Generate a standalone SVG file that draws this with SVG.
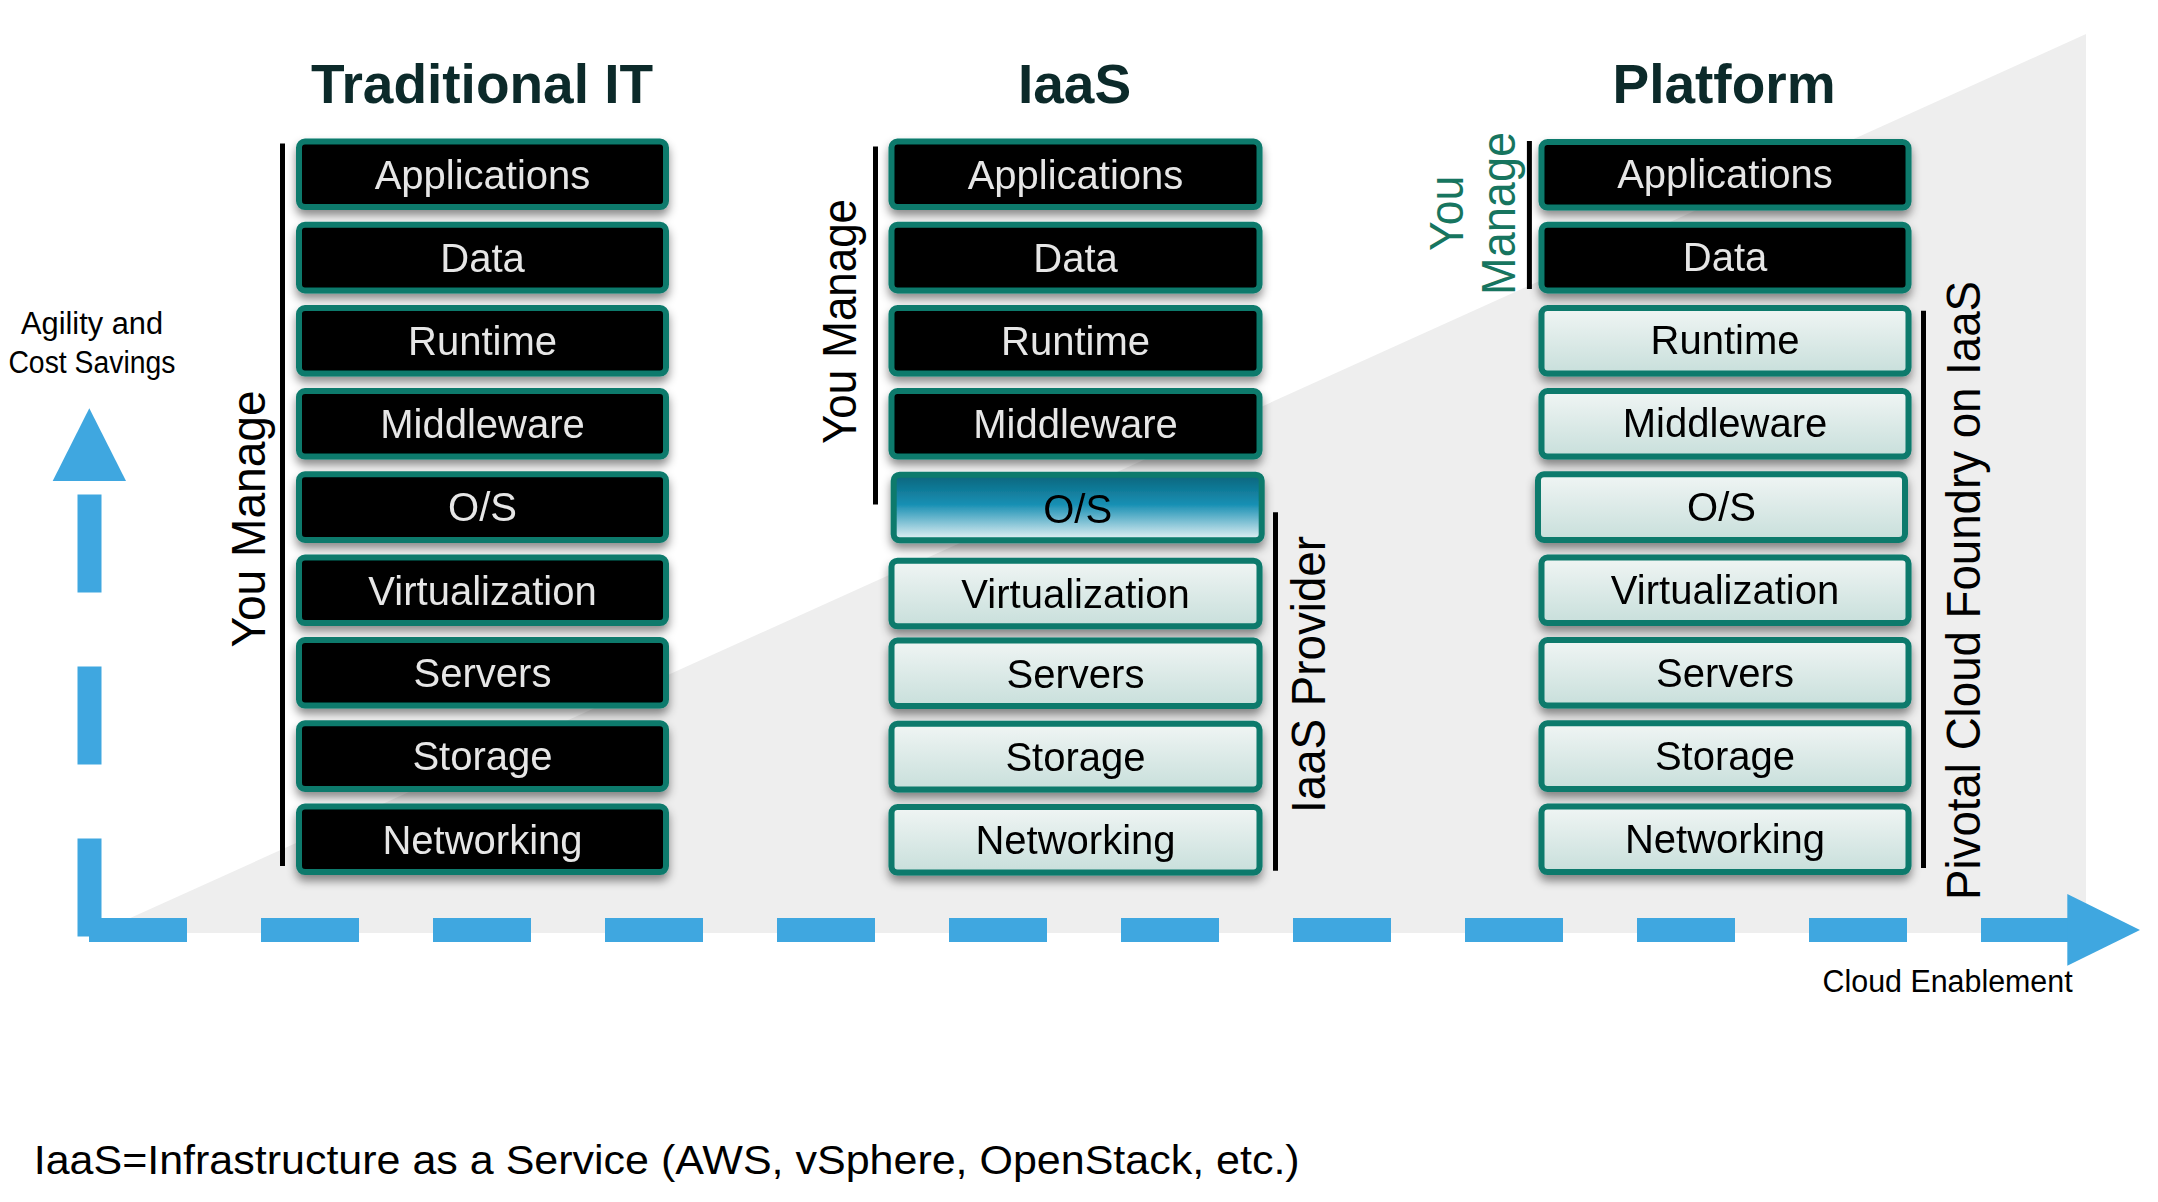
<svg xmlns="http://www.w3.org/2000/svg" width="2158" height="1202" viewBox="0 0 2158 1202">
<defs>
  <linearGradient id="lg" x1="0" y1="0" x2="0" y2="1">
    <stop offset="0" stop-color="#f0f5f4"/>
    <stop offset="1" stop-color="#c8dfdb"/>
  </linearGradient>
  <linearGradient id="osg" x1="0" y1="0" x2="0" y2="1">
    <stop offset="0" stop-color="#0a657c"/>
    <stop offset="0.45" stop-color="#178fb3"/>
    <stop offset="1" stop-color="#eaf4f6"/>
  </linearGradient>
  <filter id="sh" x="-10%" y="-20%" width="120%" height="160%">
    <feDropShadow dx="0" dy="6" stdDeviation="5" flood-color="#000" flood-opacity="0.45"/>
  </filter>
</defs>
<style>
  .box rect { stroke: #0b7a6c; stroke-width: 6; }
  .dk rect { fill: #000; }
  .lt rect { fill: url(#lg); }
  .os rect { fill: url(#osg); }
  .box text { font-family: "Liberation Sans", Arial, sans-serif; font-size: 40px; text-anchor: middle; }
  .dk text { fill: #e6e6e6; }
  .lt text, .os text { fill: #000; }
  .title { font-family: "Liberation Sans", Arial, sans-serif; font-size: 55px; font-weight: bold; fill: #0c2a2a; text-anchor: middle; }
  .vlab { font-family: "Liberation Sans", Arial, sans-serif; font-size: 48px; text-anchor: middle; fill: #000; }
  .teal { fill: #17755f; }
  .brk { stroke: #000; stroke-width: 5; }
  .note { font-family: "Liberation Sans", Arial, sans-serif; font-size: 31px; fill: #000; }
  .axis { stroke: #3fa7e0; stroke-width: 24; fill: none; stroke-dasharray: 98 74; }
</style>

<rect x="0" y="0" width="2158" height="1202" fill="#ffffff"/>
<polygon points="97,933 2086,34 2086,933" fill="#eeeeee"/>

<!-- titles -->
<text class="title" x="482" y="102.6">Traditional IT</text>
<text class="title" x="1074.5" y="102.6">IaaS</text>
<text class="title" x="1724" y="102.6">Platform</text>

<!-- Traditional IT column -->
<g id="trad" filter="url(#sh)">
  <g id="trad-app" class="box dk"><rect x="299" y="141.5" width="367" height="65.6" rx="6"/><text x="482.5" y="188.5">Applications</text></g>
  <g id="trad-data" class="box dk"><rect x="299" y="224.8" width="367" height="65.6" rx="6"/><text x="482.5" y="271.8">Data</text></g>
  <g id="trad-runtime" class="box dk"><rect x="299" y="308" width="367" height="65.6" rx="6"/><text x="482.5" y="355">Runtime</text></g>
  <g id="trad-mid" class="box dk"><rect x="299" y="391" width="367" height="65.6" rx="6"/><text x="482.5" y="438">Middleware</text></g>
  <g id="trad-os" class="box dk"><rect x="299" y="474.3" width="367" height="65.6" rx="6"/><text x="482.5" y="521.3">O/S</text></g>
  <g id="trad-virt" class="box dk"><rect x="299" y="557.5" width="367" height="65.6" rx="6"/><text x="482.5" y="604.5">Virtualization</text></g>
  <g id="trad-servers" class="box dk"><rect x="299" y="640" width="367" height="65.6" rx="6"/><text x="482.5" y="687">Servers</text></g>
  <g id="trad-storage" class="box dk"><rect x="299" y="723.3" width="367" height="65.6" rx="6"/><text x="482.5" y="770.3">Storage</text></g>
  <g id="trad-net" class="box dk"><rect x="299" y="806.5" width="367" height="65.6" rx="6"/><text x="482.5" y="853.5">Networking</text></g>
</g>
<g id="trad-you-manage">
  <line class="brk" x1="282.5" y1="143.5" x2="282.5" y2="866"/>
  <text class="vlab" transform="translate(265,519) rotate(-90)" textLength="257" lengthAdjust="spacingAndGlyphs">You Manage</text>
</g>

<!-- IaaS column -->
<g id="iaas" filter="url(#sh)">
  <g id="iaas-app" class="box dk"><rect x="891.5" y="141.5" width="368" height="65.6" rx="6"/><text x="1075.5" y="188.5">Applications</text></g>
  <g id="iaas-data" class="box dk"><rect x="891.5" y="224.8" width="368" height="65.6" rx="6"/><text x="1075.5" y="271.8">Data</text></g>
  <g id="iaas-runtime" class="box dk"><rect x="891.5" y="308" width="368" height="65.6" rx="6"/><text x="1075.5" y="355">Runtime</text></g>
  <g id="iaas-mid" class="box dk"><rect x="891.5" y="391" width="368" height="65.6" rx="6"/><text x="1075.5" y="438">Middleware</text></g>
  <g id="iaas-os" class="box os"><rect x="893.7" y="474.7" width="368" height="65.6" rx="6"/><text x="1077.7" y="523">O/S</text></g>
  <g id="iaas-virt" class="box lt"><rect x="891.5" y="560.7" width="368" height="65.6" rx="6"/><text x="1075.5" y="608">Virtualization</text></g>
  <g id="iaas-servers" class="box lt"><rect x="891.5" y="640.5" width="368" height="65.6" rx="6"/><text x="1075.5" y="688">Servers</text></g>
  <g id="iaas-storage" class="box lt"><rect x="891.5" y="723.8" width="368" height="65.6" rx="6"/><text x="1075.5" y="771">Storage</text></g>
  <g id="iaas-net" class="box lt"><rect x="891.5" y="807" width="368" height="65.6" rx="6"/><text x="1075.5" y="854">Networking</text></g>
</g>
<g id="iaas-you-manage">
  <line class="brk" x1="875.5" y1="146.6" x2="875.5" y2="504.4"/>
  <text class="vlab" transform="translate(856,321.5) rotate(-90)" textLength="245" lengthAdjust="spacingAndGlyphs">You Manage</text>
</g>
<g id="iaas-provider">
  <line class="brk" x1="1275.5" y1="512.3" x2="1275.5" y2="870.7"/>
  <text class="vlab" transform="translate(1325,674.5) rotate(-90)" textLength="277" lengthAdjust="spacingAndGlyphs">IaaS Provider</text>
</g>

<!-- Platform column -->
<g id="platform" filter="url(#sh)">
  <g id="plat-app" class="box dk"><rect x="1541.5" y="142" width="367" height="65.6" rx="6"/><text x="1725" y="188">Applications</text></g>
  <g id="plat-data" class="box dk"><rect x="1541.5" y="224.8" width="367" height="65.6" rx="6"/><text x="1725" y="270.5">Data</text></g>
  <g id="plat-runtime" class="box lt"><rect x="1541.5" y="308" width="367" height="65.6" rx="6"/><text x="1725" y="354">Runtime</text></g>
  <g id="plat-mid" class="box lt"><rect x="1541.5" y="391" width="367" height="65.6" rx="6"/><text x="1725" y="437">Middleware</text></g>
  <g id="plat-os" class="box lt"><rect x="1538" y="474.3" width="367" height="65.6" rx="6"/><text x="1721.5" y="520.5">O/S</text></g>
  <g id="plat-virt" class="box lt"><rect x="1541.5" y="557.5" width="367" height="65.6" rx="6"/><text x="1725" y="604">Virtualization</text></g>
  <g id="plat-servers" class="box lt"><rect x="1541.5" y="640" width="367" height="65.6" rx="6"/><text x="1725" y="687">Servers</text></g>
  <g id="plat-storage" class="box lt"><rect x="1541.5" y="723.3" width="367" height="65.6" rx="6"/><text x="1725" y="770">Storage</text></g>
  <g id="plat-net" class="box lt"><rect x="1541.5" y="806.5" width="367" height="65.6" rx="6"/><text x="1725" y="853">Networking</text></g>
</g>
<g id="plat-you-manage">
  <line class="brk" x1="1529.4" y1="141" x2="1529.4" y2="289"/>
  <text class="vlab teal" transform="translate(1463,213.4) rotate(-90)" textLength="75" lengthAdjust="spacingAndGlyphs">You</text>
  <text class="vlab teal" transform="translate(1515,213.4) rotate(-90)" textLength="163" lengthAdjust="spacingAndGlyphs">Manage</text>
</g>
<g id="plat-pcf">
  <line class="brk" x1="1923.5" y1="310.7" x2="1923.5" y2="868"/>
  <text class="vlab" transform="translate(1980,590.5) rotate(-90)" textLength="619" lengthAdjust="spacingAndGlyphs">Pivotal Cloud Foundry on IaaS</text>
</g>

<!-- axes -->
<g id="connectors">
  <line class="axis" x1="89.5" y1="936.5" x2="89.5" y2="481"/>
  <polygon points="52.7,481 126,481 89.3,408.3" fill="#3fa7e0"/>
  <line class="axis" x1="89" y1="930" x2="2068" y2="930"/>
  <polygon points="2067.3,894 2067.3,965.7 2140,930" fill="#3fa7e0"/>
</g>

<g id="axis-labels">
  <text class="note" x="21" y="334" textLength="142" lengthAdjust="spacingAndGlyphs">Agility and</text>
  <text class="note" x="8.4" y="373" textLength="167" lengthAdjust="spacingAndGlyphs">Cost Savings</text>
  <text class="note" x="1822.6" y="991.6" textLength="250" lengthAdjust="spacingAndGlyphs">Cloud Enablement</text>
</g>

<text x="33.7" y="1173.8" font-family="'Liberation Sans', Arial, sans-serif" font-size="41" fill="#000" textLength="1266" lengthAdjust="spacingAndGlyphs">IaaS=Infrastructure as a Service (AWS, vSphere, OpenStack, etc.)</text>
</svg>
